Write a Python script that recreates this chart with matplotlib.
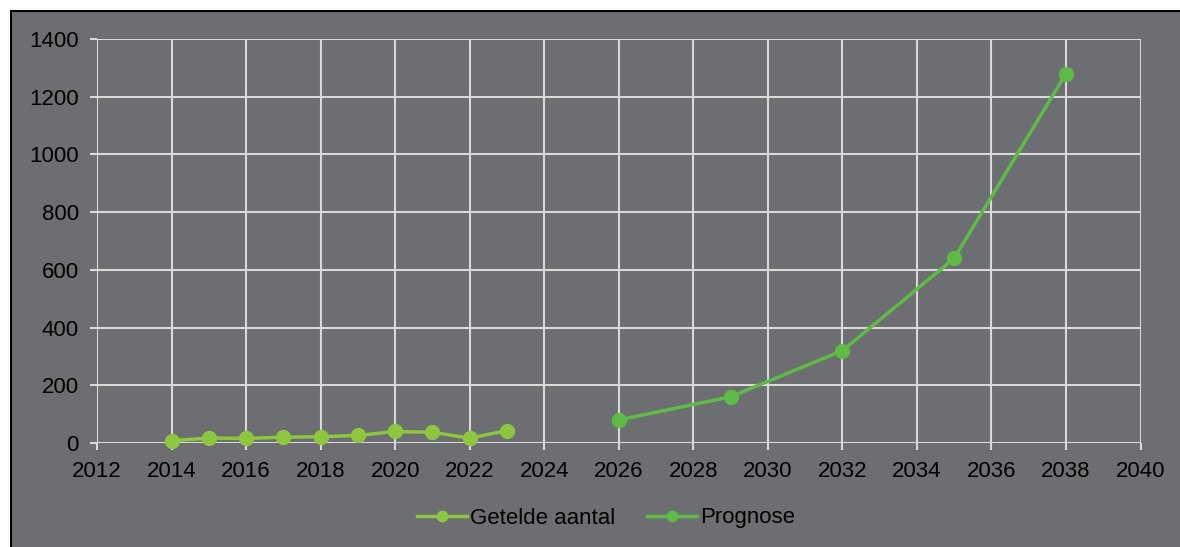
import matplotlib
matplotlib.use("Agg")
import matplotlib.pyplot as plt
from matplotlib.patches import Rectangle
from matplotlib.lines import Line2D

plt.rcParams['font.family'] = ['Liberation Sans', 'DejaVu Sans']

years_counted = [2014, 2015, 2016, 2017, 2018, 2019, 2020, 2021, 2022, 2023]
counted = [8, 17, 16, 20, 22, 26, 40, 37, 17, 43]
years_forecast = [2026, 2029, 2032, 2035, 2038]
forecast = [80, 160, 320, 640, 1280]
x_ticks = list(range(2012, 2041, 2))
y_ticks = list(range(0, 1401, 200))
labels = ["Getelde aantal", "Prognose"]

bg = "#6d6e71"
grid = "#d9d9d9"
c1 = "#8dc63f"
c2 = "#5dbb46"

W, H = 1180, 547
fig = plt.figure(figsize=(W/100, H/100), dpi=100, facecolor="white")
fig.patches.append(Rectangle((11/W, -0.05), 1.1, 1 - 11/H + 0.05, transform=fig.transFigure,
                             facecolor=bg, edgecolor="black", linewidth=1.5, zorder=-10))

ax = fig.add_axes([97/W, 1 - 443/H, (1140.5 - 97)/W, (443 - 39)/H])
ax.set_facecolor(bg)
ax.set_xlim(2012, 2040)
ax.set_ylim(0, 1400)
ax.set_xticks(x_ticks)
ax.set_yticks(y_ticks)
ax.grid(True, color=grid, linewidth=1.5)
for s in ax.spines.values():
    s.set_visible(False)
ax.tick_params(axis='both', colors=grid, labelcolor="black", labelsize=16, length=5, width=1.5)
ax.tick_params(axis='y', pad=8)
ax.tick_params(axis='x', pad=8)
ax.set_axisbelow(True)

ax.plot(years_counted, counted, color=c1, marker='o', markersize=10, linewidth=2.5, clip_on=False, zorder=3)
ax.plot(years_forecast, forecast, color=c2, marker='o', markersize=10, linewidth=2.5, clip_on=False, zorder=3)

handles = [Line2D([0], [0], color=c1, marker='o', markersize=7.5, linewidth=2.5),
           Line2D([0], [0], color=c2, marker='o', markersize=7.5, linewidth=2.5)]
fig.legend(handles, labels, loc='center', bbox_to_anchor=(606/W, 1 - 518/H), ncol=2, frameon=False,
           fontsize=16, handlelength=2.25, handletextpad=0.15, columnspacing=1.4)

fig.savefig("out.png", dpi=100, facecolor="white")
